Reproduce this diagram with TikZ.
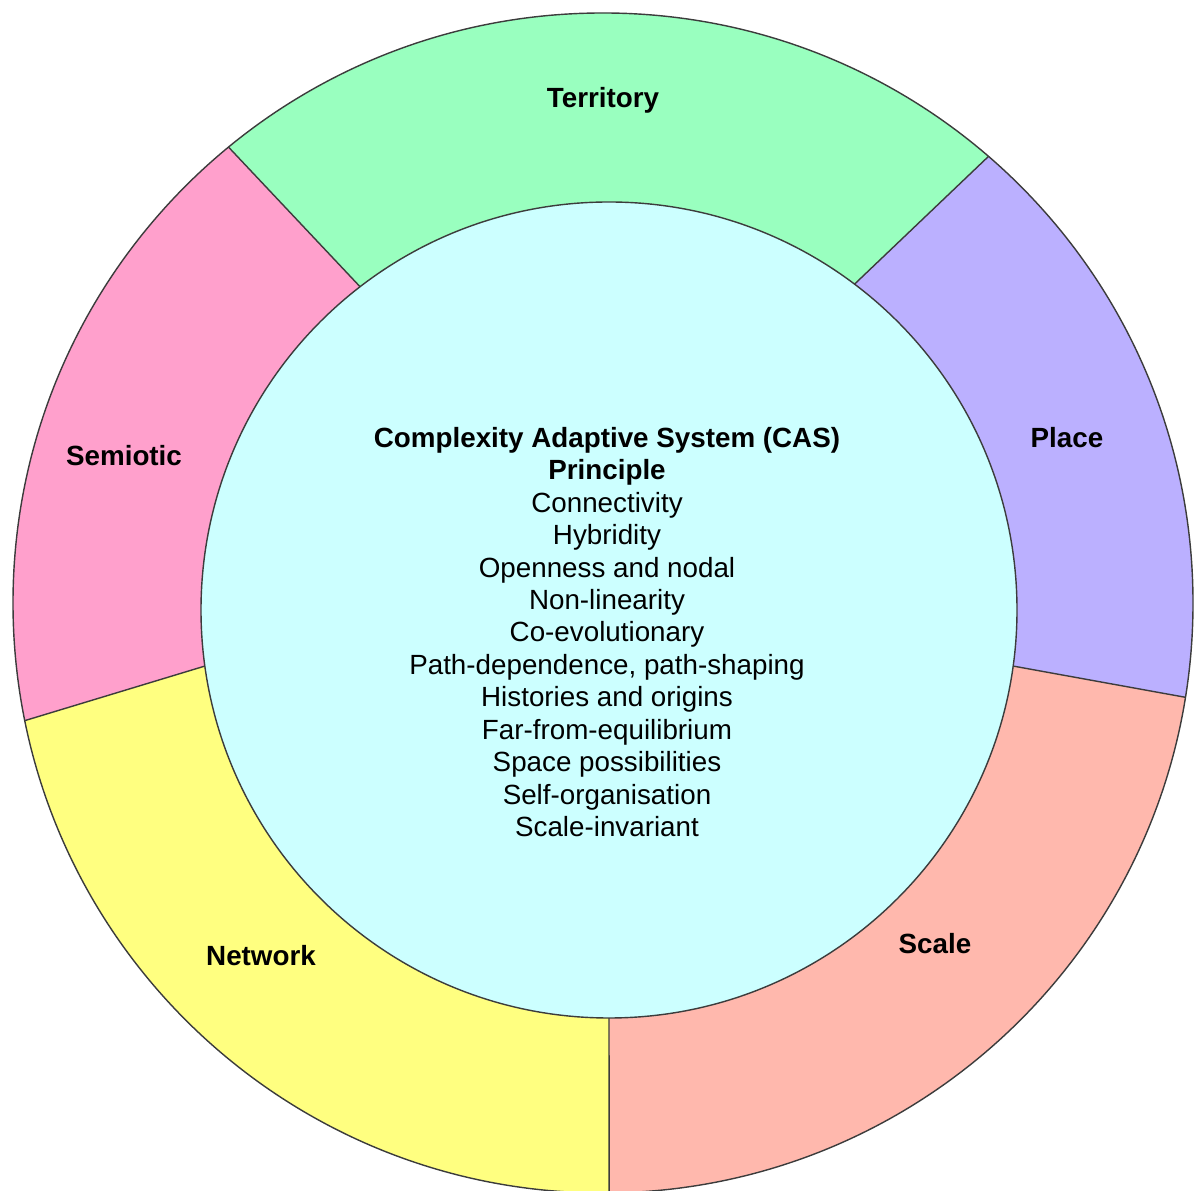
\documentclass[tikz,border=0pt]{standalone}
\usepackage{fontspec}
\setmainfont{Liberation Sans}
\usetikzlibrary{calc}

\definecolor{terrgreen}{HTML}{99FFBF}
\definecolor{placeviolet}{HTML}{BBB0FF}
\definecolor{scalesalmon}{HTML}{FFB8AD}
\definecolor{netyellow}{HTML}{FFFF80}
\definecolor{semipink}{HTML}{FFA0CC}
\definecolor{coreyan}{HTML}{CCFFFF}
\definecolor{rimgray}{HTML}{3C3C3C}

\begin{document}
\begin{tikzpicture}[x=0.01cm,y=0.01cm,
  rim/.style={draw=rimgray,line width=0.4pt},
  ringlabel/.style={font=\fontsize{7.9}{9.2}\selectfont\bfseries,inner sep=0pt,anchor=base},
  coretext/.style={font=\fontsize{7.9}{9.22}\selectfont,align=center,inner sep=0pt}]
\useasboundingbox (0,0) rectangle (1194,1191);

% centres of the outer ring and the inner disc
\coordinate (O) at (603,588);
\coordinate (C) at (609,581);

% dividers: inner end on the disc, outer end on the ring
\coordinate (i1) at ($(C)+(127.6:408)$);  \coordinate (o1) at ($(O)+(129.4:590)$);
\coordinate (i2) at ($(C)+(53.0:408)$);   \coordinate (o2) at ($(O)+(49.2:590)$);
\coordinate (i3) at ($(C)+(-7.9:408)$);   \coordinate (o3) at ($(O)+(-9.2:590)$);
\coordinate (i4) at ($(C)+(-90:408)$);    \coordinate (o4) at ($(O)+(-89.4:590)$);
\coordinate (i5) at ($(C)+(187.9:408)$);  \coordinate (o5) at ($(O)+(191.5:590)$);

% far points along each divider, used to build the coloured wedges
\foreach \k in {1,...,5}{\coordinate (e\k) at ($(i\k)!4!(o\k)$);}

\begin{scope}
  \clip (O) circle (590);
  \fill[terrgreen]   (C) -- (i2) -- (e2) -- (e1) -- (i1) -- cycle;
  \fill[placeviolet] (C) -- (i3) -- (e3) -- (e2) -- (i2) -- cycle;
  \fill[scalesalmon] (C) -- (i4) -- (e4) -- (e3) -- (i3) -- cycle;
  \fill[netyellow]   (C) -- (i5) -- (e5) -- (e4) -- (i4) -- cycle;
  \fill[semipink]    (C) -- (i1) -- (e1) -- (e5) -- (i5) -- cycle;
\end{scope}

\draw[rim] (O) circle (590);
\foreach \k in {1,...,5}{\draw[rim] (i\k) -- (o\k);}
\draw[rim,fill=coreyan] (C) circle (408);

% ring labels
\node[ringlabel] (territory) at (603,1083) {Territory};
\node[ringlabel] (place)     at (1067,743) {Place};
\node[ringlabel] (scale)     at (935,237)  {Scale};
\node[ringlabel] (network)   at (261,225)  {Network};
\node[ringlabel] (semiotic)  at (124,725)  {Semiotic};

% central list
\node[coretext] (cas) at (607,559) {%
  \textbf{Complexity Adaptive System (CAS)}\\
  \textbf{Principle}\\
  Connectivity\\
  Hybridity\\
  Openness and nodal\\
  Non-linearity\\
  Co-evolutionary\\
  Path-dependence, path-shaping\\
  Histories and origins\\
  Far-from-equilibrium\\
  Space possibilities\\
  Self-organisation\\
  Scale-invariant};
\end{tikzpicture}
\end{document}
